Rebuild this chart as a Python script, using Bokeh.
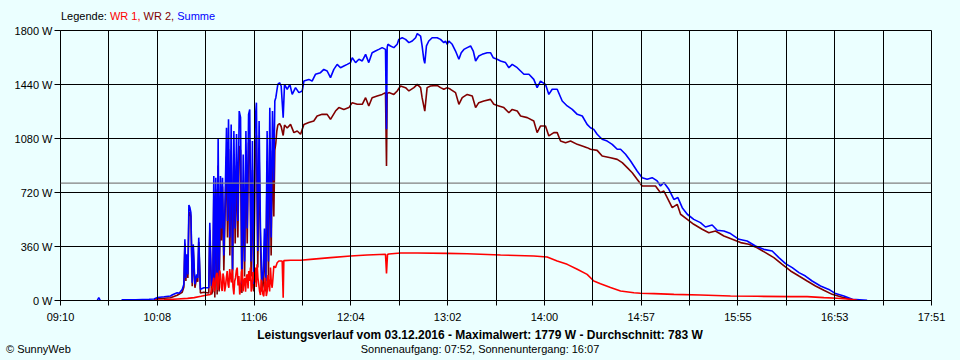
import math
from bokeh.plotting import figure
from bokeh.layouts import column
from bokeh.embed import file_html
from bokeh.resources import INLINE
from bokeh.models import (Range1d, FixedTicker, CustomJSTickFormatter, Span, Div,
                          GlobalInlineStyleSheet)

NAN = float("nan")

# ---- data (time in minutes since midnight, power in W) ----
t_start, t_end = 550, 1071          # 09:10 .. 17:51
x_labels = ["09:10", "10:08", "11:06", "12:04", "13:02", "14:00", "14:57", "15:55", "16:53", "17:51"]
y_ticks = [0, 360, 720, 1080, 1440, 1800]
y_labels = ["0 W", "360 W", "720 W", "1080 W", "1440 W", "1800 W"]
avg_w = 783
legend_items = [("Legende: ", "#000000"), ("WR 1, ", "#FF0000"), ("WR 2, ", "#800000"), ("Summe", "#0000FF")]
title_text = "Leistungsverlauf vom 03.12.2016 - Maximalwert: 1779 W - Durchschnitt: 783 W"
subtitle_text = "Sonnenaufgang: 07:52, Sonnenuntergang: 16:07"
credit_text = "\u00a9 SunnyWeb"

sum_t = [572.0, 572.9, 573.8, NAN,
         586.5, 595, 603, 606, 608, 612, 615.8, 617, 619.8, 621, 622.8, 623.8,
         624.4, 625.0, 625.4, 626.2, 626.8, 627.4, 628.0, 628.8, 629.4, 630.4, 631.4, 632.1, 632.7, 633.7,
         635.7, 638.7, 639.3, 640.3, 641.1, 641.7, 642.3, 642.9, 643.7, 644.3, 644.9, 645.7, 646.3, 646.9,
         647.7, 648.5, 649.3, 649.9, 650.5, 651.3, 652.1, 652.9, 653.7, 654.5, 655.3, 656.1, 656.9, 657.7,
         658.5, 659.3, 660.1, 660.9, 661.7, 662.5, 663.2, 664.0, 664.8, 665.6, 666.4, 667.2, 668.0, 668.8,
         669.6, 670.4, 671.2, 672.0, 672.8, 673.6, 674.4, 675.2, 676.0, 676.8, 677.6, 678.2, 678.8, 679.4, 680.0,
         681.0, 682.0, 683.2, 684.0, 685.6, 687.2, 688.6, 690.6, 692.6, 694.6, 695.6, 698.5, 700.5, 702.5,
         705.5, 707.5, 709.5, 711.5, 713.5, 715.5, 717.5, 719.5, 721.5, 723.5, 724.5, 726.5, 728.5, 730.5,
         732.5, 734.4, 736.4, 738.4, 740.4, 742.4, 744.4, 745.0, 745.4, 745.8, 747.4, 749.4, 751.4, 752.4,
         754.4, 756.4, 758.4, 760.4, 762.4, 763.4, 765.4, 766.3, 767.3, 767.9, 768.9, 770.3, 772.3, 775.3,
         777.3, 779.3, 780.3, 781.3, 782.3, 784.3, 786.3, 788.3, 789.7, 791.3, 793.3, 795.3, 796.9, 798.3,
         800.2, 802.2, 805.2, 807.2, 808.8, 811.2, 813.2, 816.2, 818.2, 820.2, 823.2, 825.2, 827.2, 830.2,
         833.1, 835.1, 837.1, 840.1, 842.1, 844.1, 847.1, 850.1, 853.1, 856.1, 859.1, 862.1, 865.0, 867.0,
         869.0, 871.0, 874.0, 877.0, 880.0, 883.0, 885.0, 888.0, 891.0, 894.9, 897.9, 900.9, 903.9, 906.9,
         908.9, 910.9, 913.9, 916.9, 919.3, 921.9, 924.9, 928.8, 932.8, 935.8, 939.8, 942.8, 946.8, 950.8,
         955.8, 960.7, 965.7, 970.7, 975.7, 979.7, 983.7, 987.7, 991.7, 995.6, 999.6, 1004.6, 1009.6, 1013.6,
         1018.6, 1023.6, 1032.5]
sum_w = [0, 20, 0, NAN,
         5, 5, 8, 10, 20, 25, 30, 38, 52, 48, 74, 108,
         408, 150, 308, 174, 636, 619, 585, 119, 374, 108, 174, 150, 419, 74,
         85, 85, 519, 96, 120, 830, 110, 819, 140, 1081, 160, 830, 480, 819,
         300, 700, 1152, 530, 1208, 420, 1174, 200, 1130, 480, 1110, 530, 1263, 1220,
         108, 974, 260, 1130, 480, 1241, 1274, 260, 1063, 110, 1197, 1319, 330, 1197,
         480, 130, 170, 480, 130, 1130, 260, 1285, 420, 1263, 800, 1330, 1352, 1397, 1441,
         1452, 1430, 1219, 1441, 1408, 1441, 1374, 1419, 1386, 1397, 1463, 1474, 1463, 1508,
         1519, 1541, 1530, 1486, 1541, 1574, 1552, 1563, 1574, 1586, 1619, 1586, 1608, 1597,
         1641, 1586, 1652, 1663, 1674, 1686, 1674, 1141, 1686, 1708, 1697, 1686, 1708, 1741,
         1752, 1741, 1719, 1730, 1752, 1779, 1763, 1697, 1608, 1581, 1697, 1730, 1752, 1752,
         1741, 1719, 1730, 1708, 1730, 1708, 1663, 1608, 1652, 1674, 1686, 1697, 1663, 1597,
         1630, 1641, 1652, 1652, 1619, 1608, 1597, 1586, 1552, 1574, 1552, 1530, 1508, 1508,
         1474, 1419, 1463, 1441, 1374, 1408, 1408, 1330, 1297, 1274, 1241, 1230, 1174, 1152,
         1141, 1108, 1075, 1063, 1041, 1008, 1008, 975, 930, 863, 819, 808, 819, 797,
         763, 786, 741, 674, 686, 619, 575, 541, 519, 490, 503, 468, 463, 446,
         408, 397, 363, 341, 330, 286, 246, 219, 186, 163, 130, 97, 74, 46,
         30, 8, 1]

wr2_t = [606, 608, 612, 615.8, 619.8, 622.8, 623.8,
         624.4, 625.0, 625.4, 626.2, 626.8, 627.4, 628.0, 628.8, 629.4, 630.4, 631.4, 632.1, 632.7, 633.7,
         635.7, 638.7, 639.3, 640.3, 641.1, 641.7, 642.3, 642.9, 643.7, 644.3, 644.9, 645.7, 646.3, 646.9,
         647.7, 648.5, 649.3, 649.9, 650.5, 651.3, 652.1, 652.9, 653.7, 654.5, 655.3, 656.1, 656.9, 657.7,
         658.5, 659.3, 660.1, 660.9, 661.7, 662.5, 663.2, 664.0, 664.8, 665.6, 666.4, 667.2, 668.0, 668.8,
         669.6, 670.4, 671.2, 672.0, 672.8, 673.6, 674.4, 675.2, 676.0, 676.8, 677.6, 678.2, 678.8, 679.4, 680.0,
         681.0, 682.0, 683.2, 684.0, 685.6, 687.6, 689.6, 691.6, 693.6, 695.6, 698.5, 701.5, 703.5, 706.5,
         709.5, 711.5, 714.5, 716.5, 719.5, 722.5, 724.5, 727.5, 730.5, 732.5, 734.4, 736.4, 739.4, 742.4,
         744.4, 745.0, 745.4, 746.4, 749.4, 751.4, 753.4, 756.4, 758.4, 761.4, 763.4, 765.4, 766.3, 767.9,
         769.3, 771.3, 775.3, 777.3, 779.3, 781.3, 783.3, 786.3, 788.3, 790.3, 793.3, 796.3, 798.3, 800.2,
         803.2, 807.2, 809.2, 812.2, 815.2, 818.2, 820.2, 823.2, 825.2, 829.2, 833.1, 835.1, 837.1, 840.1,
         842.1, 845.1, 847.1, 849.1, 852.1, 855.1, 859.1, 862.1, 865.0, 867.0, 871.0, 874.0, 879.0, 883.0,
         886.0, 889.0, 892.0, 894.9, 897.9, 901.9, 905.9, 908.9, 910.9, 912.9, 915.9, 918.9, 920.9, 924.9,
         928.8, 933.8, 937.8, 941.8, 946.8, 951.8, 956.8, 961.7, 966.7, 971.7, 976.7, 981.7, 986.7, 991.7,
         996.6, 1001.6, 1006.6, 1011.6, 1018.6, 1024.6]
wr2_w = [3, 12, 15, 18, 35, 55, 90,
         380, 130, 285, 150, 560, 590, 560, 95, 350, 85, 150, 125, 390, 50,
         55, 50, 470, 40, 60, 700, 20, 740, 40, 900, 60, 700, 400, 760,
         200, 600, 960, 420, 1010, 300, 1000, 120, 950, 380, 900, 420, 1030, 1000,
         50, 800, 160, 950, 380, 1050, 1070, 160, 870, 60, 1000, 1100, 220, 980,
         380, 60, 100, 360, 60, 930, 150, 1060, 300, 1000, 560, 1000, 1050, 1130, 1170,
         1180, 1160, 1100, 1170, 1150, 1174, 1119, 1130, 1108, 1174, 1186, 1197, 1230, 1241,
         1241, 1208, 1263, 1286, 1274, 1286, 1319, 1308, 1308, 1352, 1297, 1352, 1363, 1374,
         1386, 897, 1380, 1386, 1374, 1397, 1430, 1419, 1397, 1419, 1441, 1419, 1352, 1263,
         1419, 1430, 1434, 1419, 1408, 1419, 1408, 1386, 1308, 1352, 1374, 1363, 1286, 1319,
         1330, 1341, 1308, 1297, 1286, 1252, 1274, 1263, 1230, 1219, 1197, 1119, 1163, 1163,
         1097, 1119, 1119, 1063, 1052, 1063, 1041, 1030, 1019, 1008, 1001, 963, 952, 941,
         919, 886, 852, 808, 763, 763, 763, 719, 730, 686, 619, 641, 575, 541,
         508, 475, 452, 463, 430, 408, 386, 375, 352, 319, 286, 241, 197, 163,
         130, 97, 68, 41, 19, 3]

wr1_t = [606.5, 612, 620, 626, 630, 634, 637, 639.7,
         640.7, 641.7, 642.2, 642.7, 643.2, 643.7, 644.2, 644.7, 645.2, 645.7, 646.2, 646.7, 647.2, 647.7,
         648.2, 648.7, 649.2, 649.7, 650.2, 650.7, 651.2, 651.7, 652.2, 652.7, 653.2, 653.7, 654.2, 654.7,
         655.2, 655.7, 656.2, 656.7, 657.2, 657.7, 658.2, 658.7, 659.2, 659.7, 660.2, 660.7, 661.2, 661.7,
         662.2, 662.6, 663.1, 663.6, 664.1, 664.6, 665.1, 665.6, 666.1, 666.6, 667.1, 667.6, 668.1, 668.6,
         669.1, 669.6, 670.1, 670.6, 671.1, 671.6, 672.1, 672.6, 673.1, 673.6, 674.1, 674.6, 675.1, 675.6,
         676.1, 676.6, 677.1, 677.6, 678.6, 679.6, 680.6, 682.6, 683.2, 683.6, 687.6, 693.6, 699.5, 711.5,
         723.5, 733.4, 744.4, 745.0, 745.6, 746.4, 753.4, 763.4, 781.3, 793.3, 813.2, 833.1, 841.1, 847.1,
         853.1, 859.1, 865.0, 869.0, 873.0, 879.0, 885.0, 893.0, 896.9, 905.0, 916.9, 932.8, 950.8, 966.7,
         986.7, 996.6, 1006.6, 1014.6, 1022.6, 1026.6]
wr1_w = [3, 5, 10, 14, 19, 28, 35, 41,
         85, 152, 60, 108, 170, 185, 70, 119, 200, 174, 90, 63, 180, 152,
         60, 96, 150, 196, 110, 85, 210, 163, 120, 208, 90, 41, 130, 152,
         200, 219, 100, 163, 40, 74, 190, 208, 60, 130, 150, 59, 160, 174,
         80, 196, 130, 219, 60, 85, 190, 174, 120, 219, 90, 241, 150, 108,
         60, 37, 140, 85, 40, 28, 110, 152, 30, 59, 170, 108, 60, 219,
         120, 85, 150, 230, 219, 252, 263, 263, 19, 266, 268, 268, 274, 286,
         297, 303, 308, 181, 306, 310, 317, 317, 314, 312, 303, 297, 290, 263,
         241, 208, 174, 130, 112, 86, 63, 52, 48, 46, 41, 37, 30, 28,
         26, 26, 19, 15, 8, 1]

# ---- style ----
BG = "#EBFFFF"
FONT = "Liberation Sans"
W = 960
TOP_H, PLOT_H, BOT_H = 24, 302, 34

p = figure(width=W, height=PLOT_H, frame_width=871, frame_height=270, title=None,
           min_border_left=60, min_border_right=29, min_border_top=6, min_border_bottom=26,
           x_range=Range1d(t_start, t_end), y_range=Range1d(0, 1800),
           output_backend="svg", toolbar_location=None,
           background_fill_color=BG, border_fill_color=BG,
           outline_line_color="black", outline_line_width=1, margin=0)
p.stylesheets = [GlobalInlineStyleSheet(css="body { background-color: %s; }" % BG)]

p.line(wr2_t, wr2_w, line_color="#800000", line_width=1.6)
p.line(sum_t, sum_w, line_color="#0000FF", line_width=1.6)
p.line(wr1_t, wr1_w, line_color="#FF0000", line_width=1.6)

p.add_layout(Span(location=avg_w, dimension="width", line_color="#808080", line_width=1.2))

n_int = 2 * (len(x_labels) - 1)
step = (t_end - t_start) / n_int
x_ticks = [t_start + k * step for k in range(n_int + 1)]

xa = p.xaxis[0]
xa.ticker = FixedTicker(ticks=x_ticks)
xa.formatter = CustomJSTickFormatter(args=dict(labels=x_labels, t0=t_start, step=step),
                                     code="const i = Math.round((tick - t0) / step); return (i % 2 == 0) ? labels[i / 2] : '';")
ya = p.yaxis[0]
ya.ticker = FixedTicker(ticks=y_ticks)
ya.major_label_overrides = {t: l for t, l in zip(y_ticks, y_labels)}

for ax in (xa, ya):
    ax.axis_line_color = "black"
    ax.major_tick_line_color = "black"
    ax.minor_tick_line_color = None
    ax.major_tick_in = 0
    ax.major_label_text_font = FONT
    ax.major_label_text_font_size = "11px"
    ax.major_label_text_color = "black"
xa.major_tick_out = 5
xa.major_label_standoff = 5
ya.major_tick_out = 6
ya.major_label_standoff = 2

for g in (p.xgrid[0], p.ygrid[0]):
    g.grid_line_color = "black"
    g.grid_line_width = 1
    g.grid_line_alpha = 1
    g.level = "overlay"
p.xgrid[0].ticker = FixedTicker(ticks=x_ticks)
p.ygrid[0].ticker = FixedTicker(ticks=y_ticks)

# ---- texts above and below the chart ----
base_css = "font-family:'%s';font-size:11px;line-height:11px;white-space:nowrap;" % FONT
title_css = "font-family:'%s';font-size:12px;line-height:11px;white-space:nowrap;font-weight:bold;" % FONT
legend_html = "".join('<span style="color:%s">%s</span>' % (c, t.replace(" ", "&nbsp;")) for t, c in legend_items)
top_div = Div(width=W, height=TOP_H, margin=0, styles={"background-color": BG, "overflow": "visible"},
              text=('<div style="position:relative;width:%dpx;height:%dpx;">'
                    '<div style="position:absolute;left:61px;top:11px;%s">%s</div></div>')
                   % (W, TOP_H, base_css, legend_html))
bot_div = Div(width=W, height=BOT_H, margin=0, styles={"background-color": BG, "overflow": "visible"},
              text=('<div style="position:relative;width:%dpx;height:%dpx;">'
                    '<div style="position:absolute;left:0;width:%dpx;top:4px;text-align:center;%s">%s</div>'
                    '<div style="position:absolute;left:0;width:%dpx;top:18px;text-align:center;%s">%s</div>'
                    '<div style="position:absolute;left:6px;top:18px;%s">%s</div></div>')
                   % (W, BOT_H, W, title_css, title_text, W, base_css, subtitle_text, base_css, credit_text))

page = column(top_div, p, bot_div, spacing=0, margin=0, styles={"background-color": BG})

open("out.html", "w").write(file_html(page, INLINE))
